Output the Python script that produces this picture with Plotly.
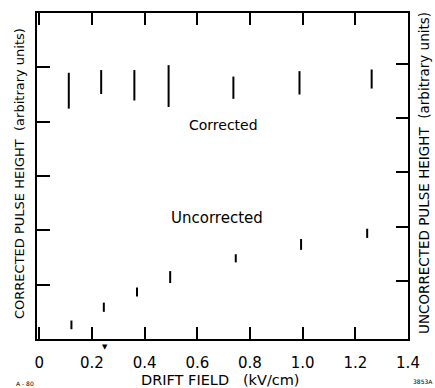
import plotly.graph_objects as go

# Drift field (kV/cm) positions
corr_x = [0.112, 0.235, 0.361, 0.491, 0.737, 0.988, 1.262]
corr_lo = [4.24, 4.51, 4.39, 4.27, 4.42, 4.50, 4.61]
corr_hi = [4.90, 4.95, 4.95, 5.04, 4.83, 4.93, 4.96]

unc_x = [0.122, 0.245, 0.371, 0.497, 0.746, 0.994, 1.245]
unc_lo = [0.11, 0.43, 0.71, 0.96, 1.34, 1.57, 1.79]
unc_hi = [0.27, 0.60, 0.88, 1.18, 1.49, 1.77, 1.96]

x_ticks = [0, 0.2, 0.4, 0.6, 0.8, 1.0, 1.2, 1.4]
x_ticktext = ["0", "0.2", "0.4", "0.6", "0.8", "1.0", "1.2", "1.4"]
y_ticks = [1, 2, 3, 4, 5]


def segs(xs, lo, hi):
    X, Y = [], []
    for x, a, b in zip(xs, lo, hi):
        X += [x, x, None]
        Y += [a, b, None]
    return X, Y


FONT = "DejaVu Sans"

fig = go.Figure()
cx, cy = segs(corr_x, corr_lo, corr_hi)
fig.add_trace(go.Scatter(x=cx, y=cy, mode="lines", line=dict(color="black", width=2),
                         showlegend=False, hoverinfo="skip"))
ux, uy = segs(unc_x, unc_lo, unc_hi)
fig.add_trace(go.Scatter(x=ux, y=uy, mode="lines", line=dict(color="black", width=2),
                         showlegend=False, hoverinfo="skip", yaxis="y2"))

fig.update_layout(
    width=435, height=388,
    margin=dict(l=37, r=27, t=13, b=49),
    paper_bgcolor="white", plot_bgcolor="white",
    font=dict(family=FONT, color="black"),
    xaxis=dict(range=[-0.0087, 1.4], tickvals=x_ticks, ticktext=x_ticktext,
               ticks="inside", ticklen=12, tickwidth=1.5, tickcolor="black",
               showline=True, linecolor="black", linewidth=2, mirror="ticks",
               showgrid=False, zeroline=False,
               tickfont=dict(size=15, family=FONT, color="black"),
               ticklabelstandoff=9),
    yaxis=dict(range=[0, 6], tickvals=y_ticks, ticks="inside", ticklen=13,
               tickwidth=1.5, tickcolor="black", showticklabels=False,
               showline=True, linecolor="black", linewidth=2, mirror=True,
               showgrid=False, zeroline=False),
    yaxis2=dict(range=[-0.07, 5.93], tickvals=y_ticks, ticks="inside", ticklen=12,
                tickwidth=1.5, tickcolor="black", showticklabels=False,
                overlaying="y", side="right", showline=False,
                showgrid=False, zeroline=False),
)


def px2paper(px, py):
    return (px - 37) / 371, (339 - py) / 326


anns = []
anns.append(dict(text="Corrected", x=0.698, y=3.94, xref="x", yref="y",
                 font=dict(size=14)))
anns.append(dict(text="Uncorrected", x=0.675, y=2.23, xref="x", yref="y",
                 font=dict(size=15)))
x, y = px2paper(220, 380)
anns.append(dict(text="DRIFT FIELD &nbsp; (kV/cm)", x=x, y=y, xref="paper", yref="paper",
                 font=dict(size=14.5)))
x, y = px2paper(19, 174)
anns.append(dict(text="CORRECTED PULSE HEIGHT &nbsp;(arbitrary units)", x=x, y=y,
                 xref="paper", yref="paper", textangle=-90, font=dict(size=13)))
x, y = px2paper(424, 173)
anns.append(dict(text="UNCORRECTED PULSE HEIGHT &nbsp;(arbitrary units)", x=x, y=y,
                 xref="paper", yref="paper", textangle=-90, font=dict(size=13.5)))
x, y = px2paper(25, 383)
anns.append(dict(text="A - 80", x=x, y=y, xref="paper", yref="paper", font=dict(size=6)))
x, y = px2paper(423, 381)
anns.append(dict(text="3853A", x=x, y=y, xref="paper", yref="paper", font=dict(size=6)))
x, y = px2paper(105, 347)
anns.append(dict(text="▼", x=x, y=y, xref="paper", yref="paper", font=dict(size=7)))
for a in anns:
    a.update(showarrow=False, xanchor="center", yanchor="middle")
fig.update_layout(annotations=anns)

fig.write_html("out.html")
